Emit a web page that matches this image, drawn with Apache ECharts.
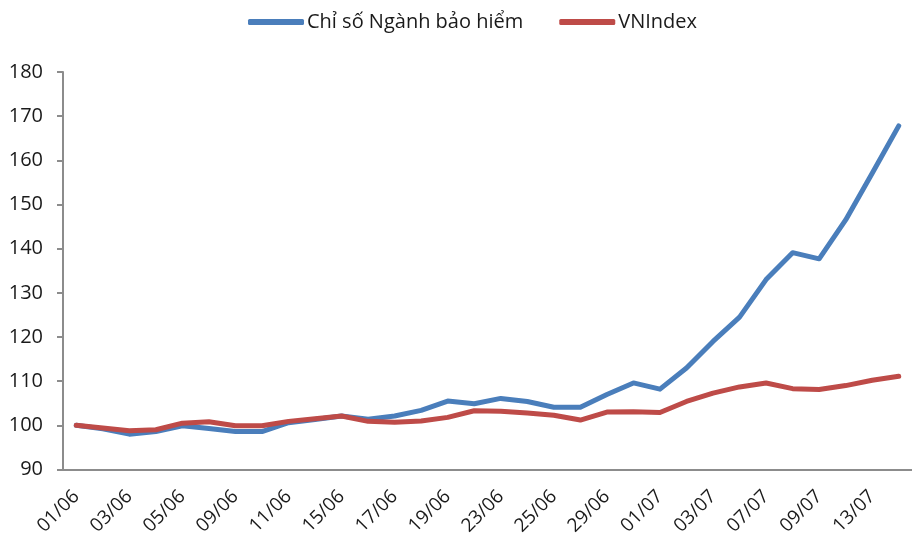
<!DOCTYPE html>
<html>
<head>
<meta charset="utf-8">
<script src="https://cdn.jsdelivr.net/npm/echarts@6/dist/echarts.min.js"></script>
<style>
  html, body { margin: 0; padding: 0; background: #fff; }
  #chart { width: 912px; height: 538px; }
</style>
</head>
<body>
<div id="chart"></div>
<script>
var dates = [
    '01/06', '02/06', '03/06', '04/06', '05/06', '08/06', '09/06', '10/06',
    '11/06', '12/06', '15/06', '16/06', '17/06', '18/06', '19/06', '22/06',
    '23/06', '24/06', '25/06', '26/06', '29/06', '30/06', '01/07', '02/07',
    '03/07', '06/07', '07/07', '08/07', '09/07', '10/07', '13/07', '14/07'
];
var insurance = [
    100.0, 99.2, 98.0, 98.6, 99.9, 99.3, 98.6, 98.6,
    100.6, 101.3, 102.1, 101.4, 102.1, 103.4, 105.5, 104.9,
    106.1, 105.4, 104.1, 104.1, 107.0, 109.6, 108.2, 113.0,
    119.0, 124.5, 133.0, 139.1, 137.7, 146.5, 157.1, 167.8
];
var vnindex = [
    100.0, 99.4, 98.8, 99.0, 100.5, 100.8, 99.9, 99.9,
    100.9, 101.5, 102.1, 100.9, 100.7, 101.0, 101.8, 103.3,
    103.2, 102.8, 102.3, 101.2, 103.0, 103.1, 102.9, 105.4,
    107.3, 108.7, 109.6, 108.3, 108.1, 109.0, 110.2, 111.1
];
var seriesNames = ['Chỉ số Ngành bảo hiểm', 'VNIndex'];

var font = '"Open Sans", "Noto Sans", sans-serif';
var axisGray = '#8c8c8c';

var chart = echarts.init(document.getElementById('chart'));
chart.setOption({
    backgroundColor: '#fff',
    animation: false,
    textStyle: { fontFamily: font },
    legend: {
        top: 7,
        left: 243,
        itemWidth: 56,
        itemHeight: 6,
        itemGap: 36,
        icon: 'roundRect',
        textStyle: { fontSize: 20, color: '#1a1a1a', padding: [0, 0, 0, -2] },
        data: seriesNames
    },
    grid: { left: 63, right: -4, top: 72, bottom: 68, containLabel: false },
    xAxis: {
        type: 'category',
        data: dates,
        boundaryGap: true,
        axisLine: { lineStyle: { color: axisGray, width: 2 } },
        axisTick: { interval: 14, length: 7, lineStyle: { color: axisGray, width: 2 } },
        axisLabel: { interval: 1, rotate: 45, margin: 24, fontSize: 19, color: '#1a1a1a' },
        splitLine: { show: false }
    },
    yAxis: {
        type: 'value',
        min: 90,
        max: 180,
        interval: 10,
        axisLine: { show: true, lineStyle: { color: axisGray, width: 2 } },
        axisTick: { show: true, length: 6, lineStyle: { color: axisGray, width: 2 } },
        axisLabel: { margin: 20, fontSize: 20, color: '#1a1a1a' },
        splitLine: { show: false }
    },
    series: [{
        name: seriesNames[0],
        type: 'line',
        data: insurance,
        showSymbol: false,
        symbol: 'none',
        lineStyle: { color: '#4a7ebb', width: 5, cap: 'round', join: 'round' },
        itemStyle: { color: '#4a7ebb' }
    }, {
        name: seriesNames[1],
        type: 'line',
        data: vnindex,
        showSymbol: false,
        symbol: 'none',
        lineStyle: { color: '#be4b48', width: 5, cap: 'round', join: 'round' },
        itemStyle: { color: '#be4b48' }
    }]
});
</script>
</body>
</html>
